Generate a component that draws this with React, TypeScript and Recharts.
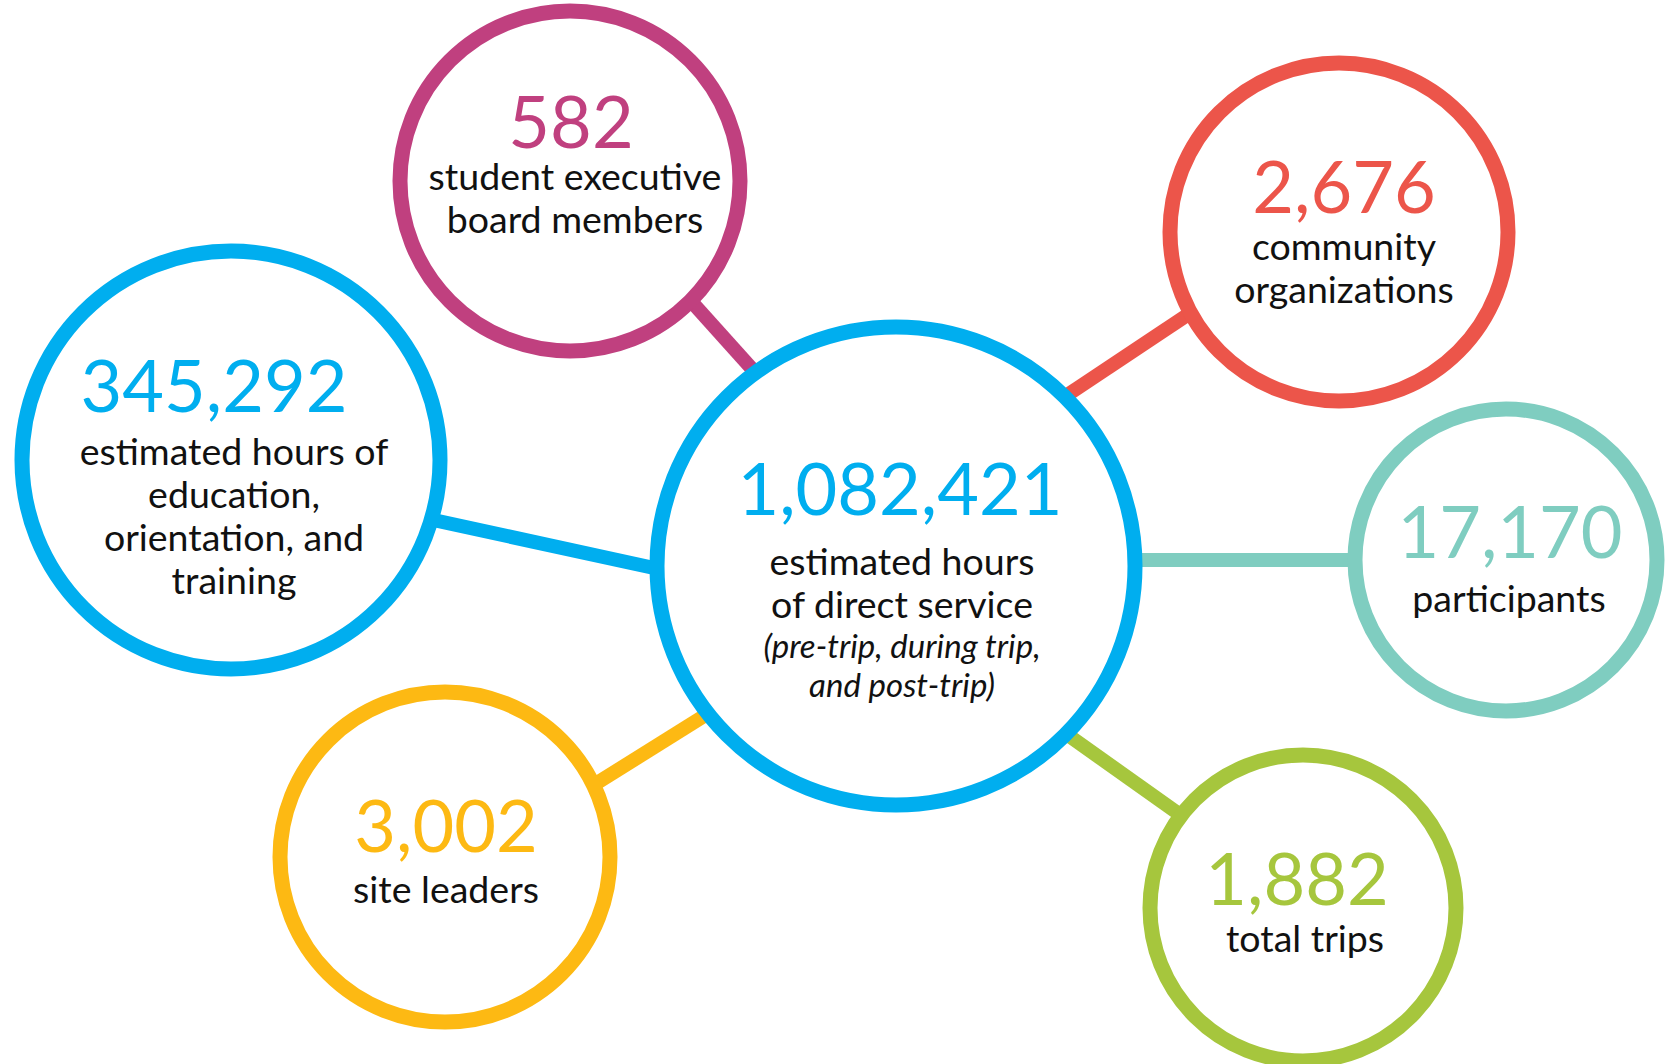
import { ScatterChart, Scatter, XAxis, YAxis } from "recharts";

// stats shown in each bubble (first one is the hub)
const numbers = ["1,082,421", "582", "2,676", "345,292", "17,170", "3,002", "1,882"];
const labels = [
  ["estimated hours", "of direct service"],
  ["student executive", "board members"],
  ["community", "organizations"],
  ["estimated hours of", "education,", "orientation, and", "training"],
  ["participants"],
  ["site leaders"],
  ["total trips"],
];
const notes = [["(pre-trip, during trip,", "and post-trip)"], [], [], [], [], [], []];

// bubble centres / radii in chart units
const bubbleX = [896, 570, 1339, 231, 1506, 445, 1303];
const bubbleY = [566, 181, 232, 460, 560, 857, 908];
const bubbleR = [239, 170, 169, 209, 151, 165, 153];

// connector ends: bubble side -> hub side
const linkFrom = [[575, 172], [1339, 214], [231, 476], [1506, 560], [445, 878], [1303, 902]];
const linkTo = [[850, 478], [950, 473], [700, 578], [896, 560], [800, 656], [896, 613]];

const COLORS = ["#00AEEF", "#C0407F", "#EC554A", "#00AEEF", "#7FCDC0", "#FDB913", "#A6C63D"];
const LINK_COLORS = ["#C0407F", "#EC554A", "#00AEEF", "#7FCDC0", "#FDB913", "#A6C63D"];

// text placement inside each bubble: [numDx, numDy, labelDx, labelDy]
const textPos = [
  [4, -51, 6, 9],
  [1, -33, 5, 9],
  [5, -19, 5, 28],
  [-17, -48, 3, 5],
  [4, -2, 3, 52],
  [1, -5, 1, 46],
  [-6, -3, 2, 44],
];

const W = 1675;
const H = 1064;
const FONT = "Lato, 'Open Sans', sans-serif";

const bubbles = numbers.map((n, i) => ({
  x: bubbleX[i],
  y: bubbleY[i],
  r: bubbleR[i],
  num: n,
  lines: labels[i],
  note: notes[i],
  idx: i,
}));

const links = linkFrom.map((f, i) => [
  { x: f[0], y: f[1] },
  { x: linkTo[i][0], y: linkTo[i][1] },
]);

function Bubble(props: any) {
  const { cx, cy, payload } = props;
  if (cx == null || cy == null) return <g />;
  const i = payload.idx;
  const [ndx, ndy, ldx, ldy] = textPos[i];
  const gap = 43;
  const noteStart = ldy + payload.lines.length * gap - 3;
  return (
    <g>
      <circle cx={cx} cy={cy} r={payload.r} fill="#fff" stroke={COLORS[i]} strokeWidth={15} />
      <text x={cx + ndx} y={cy + ndy} textAnchor="middle" fill={COLORS[i]} fontSize={72} fontFamily={FONT}>
        {payload.num}
      </text>
      {payload.lines.map((l: string, k: number) => (
        <text key={k} x={cx + ldx} y={cy + ldy + k * gap} textAnchor="middle" fill="#111" fontSize={37.5} fontFamily={FONT}>
          {l}
        </text>
      ))}
      {payload.note.map((l: string, k: number) => (
        <text key={"n" + k} x={cx + ldx} y={cy + noteStart + k * 39} textAnchor="middle" fill="#111" fontSize={33} fontStyle="italic" fontFamily={FONT}>
          {l}
        </text>
      ))}
    </g>
  );
}

export default function App() {
  return (
    <div style={{ position: "absolute", left: 0, top: 0, background: "#fff" }}>
      <ScatterChart width={W} height={H} margin={{ top: 0, right: 0, bottom: 0, left: 0 }}>
        <XAxis type="number" dataKey="x" domain={[0, W]} hide />
        <YAxis type="number" dataKey="y" domain={[0, H]} reversed hide />
        {links.map((d, i) => (
          <Scatter
            key={"link" + i}
            data={d}
            line={{ stroke: LINK_COLORS[i], strokeWidth: 14 }}
            shape={() => <g />}
            isAnimationActive={false}
          />
        ))}
        <Scatter data={bubbles} shape={<Bubble />} isAnimationActive={false} />
      </ScatterChart>
    </div>
  );
}
